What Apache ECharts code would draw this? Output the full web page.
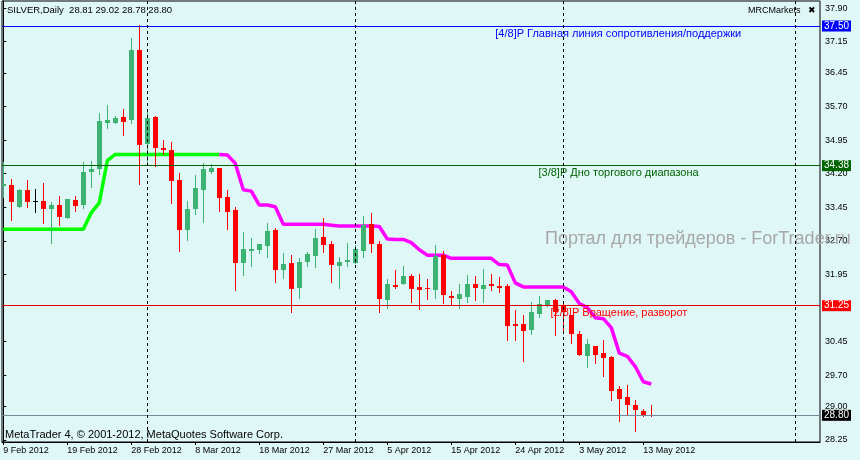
<!DOCTYPE html>
<html><head><meta charset="utf-8">
<script src="https://cdn.jsdelivr.net/npm/echarts@6/dist/echarts.min.js"></script>
<style>html,body{margin:0;padding:0;background:#E0F7F7}#c{width:860px;height:460px}</style>
</head><body><div id="c"></div>
<script>
const symbolName = "SILVER,Daily";
const opens  = [33.92,33.95,33.46,33.84,33.58,33.58,33.40,33.51,33.22,33.61,33.51,34.24,34.31,35.34,35.34,35.47,35.40,36.96,34.86,35.47,34.78,34.74,34.06,32.94,33.41,33.84,34.24,34.33,33.68,33.39,32.20,32.47,32.49,32.58,32.94,32.05,32.20,31.65,32.23,32.36,32.78,32.63,32.14,32.23,32.20,32.47,33.08,32.63,31.38,31.71,31.73,31.91,31.67,31.65,31.60,32.38,31.47,31.40,31.45,31.73,31.62,31.73,31.69,31.69,30.84,30.84,30.71,31.06,31.24,31.38,31.25,31.04,30.62,30.13,30.35,30.19,30.10,29.39,29.21,29.03,28.90,28.81];
const highs  = [34.46,34.08,33.86,34.06,33.86,33.99,33.57,33.71,33.63,33.71,34.46,34.48,35.56,35.73,35.50,35.65,37.23,37.52,35.65,35.49,34.95,34.91,34.22,33.59,34.17,34.44,34.42,34.33,33.84,33.46,32.90,32.76,32.63,33.10,32.99,32.43,32.38,32.32,32.45,32.96,33.21,32.70,32.34,32.65,32.61,33.25,33.32,32.70,31.85,32.05,32.14,31.96,31.96,31.85,32.61,32.47,31.58,31.73,31.94,31.91,32.07,31.96,31.89,31.73,31.15,31.04,31.33,31.47,31.38,31.40,31.33,31.04,30.68,30.51,30.35,30.48,30.13,29.46,29.48,29.14,28.94,29.02];
const lows   = [33.69,33.16,33.46,33.46,33.35,33.10,32.64,33.05,33.22,33.37,33.44,33.91,34.20,35.21,35.34,35.07,35.33,33.96,34.39,34.37,34.64,33.55,32.47,32.72,33.30,33.12,34.22,33.37,32.96,31.60,31.94,32.14,32.43,32.34,31.78,31.87,31.11,31.42,32.14,32.11,32.45,31.78,31.65,32.14,32.20,32.34,32.45,31.10,31.20,31.65,31.73,31.33,31.18,31.40,31.42,31.31,31.29,31.20,31.33,31.38,31.33,31.60,31.56,30.48,30.48,30.01,30.62,30.99,31.24,30.59,30.68,30.42,30.15,29.88,29.97,29.68,29.14,28.67,28.81,28.45,28.79,28.78];
const closes = [33.96,33.57,33.83,33.57,33.58,33.42,33.50,33.24,33.63,33.48,34.24,34.30,35.38,35.41,35.44,35.36,36.96,34.85,35.44,34.78,34.74,34.04,32.94,33.41,33.88,34.30,34.33,33.66,33.34,32.20,32.52,32.52,32.63,32.92,32.05,32.18,31.62,32.23,32.41,32.76,32.61,32.16,32.23,32.27,32.52,33.05,32.63,31.40,31.73,31.67,31.91,31.62,31.60,31.62,32.36,31.49,31.42,31.51,31.73,31.65,31.71,31.69,31.65,30.80,30.80,30.68,31.11,31.29,31.38,31.11,31.10,30.62,30.15,30.39,30.15,30.08,29.34,29.16,29.03,28.92,28.81,28.80];
const greenLine = [32.96,32.96,32.96,32.96,32.96,32.96,32.96,32.96,32.96,32.96,32.96,33.33,33.55,34.49,34.63,34.63,34.63,34.63,34.63,34.63,34.63,34.63,34.63,34.63,34.63,34.63,34.63,34.63];
const magentaLine = [null,null,null,null,null,null,null,null,null,null,null,null,null,null,null,null,null,null,null,null,null,null,null,null,null,null,null,
  34.63,34.62,34.43,33.84,33.81,33.50,33.50,33.46,33.07,33.07,33.07,33.07,33.07,33.07,33.05,33.03,33.03,33.03,33.03,33.03,33.02,32.74,32.73,32.73,32.66,32.50,32.38,32.38,32.38,32.31,32.31,32.31,32.31,32.31,32.31,32.17,32.16,31.76,31.67,31.67,31.67,31.67,31.67,31.67,31.56,31.30,31.21,30.98,30.96,30.76,30.19,30.12,29.89,29.55,29.50];
const levelValues = [37.50, 34.38, 31.25, 28.80];
const levelBoxLabels = ["37.50", "34.38", "31.25", "28.80"];
const levelTexts = ["[4/8]P Главная линия сопротивления/поддержки", "[3/8]P Дно торгового диапазона", "[2/8]P Вращение, разворот"];
const cycleLines = [18, 44, 70, 99];
const xTickIndex = [0, 8, 16, 24, 32, 40, 48, 56, 64, 72, 80];
const xTickLabels = ["9 Feb 2012", "19 Feb 2012", "28 Feb 2012", "8 Mar 2012", "18 Mar 2012", "27 Mar 2012", "5 Apr 2012", "15 Apr 2012", "24 Apr 2012", "3 May 2012", "13 May 2012"];
const yTickValues = [37.90, 37.15, 36.45, 35.70, 34.95, 34.20, 33.45, 32.70, 31.95, 30.45, 29.70, 29.00, 28.25];
const yTickLabels = ["37.90", "37.15", "36.45", "35.70", "34.95", "34.20", "33.45", "32.70", "31.95", "30.45", "29.70", "29.00", "28.25"];

const FONT = '"Liberation Sans", Arial, sans-serif';
const bull = '#3CB371', bear = '#FF0000', doji = '#000000';
const levelColors = ['#0000FF', '#006400', '#E00000', '#778899'];
const boxColors = ['#0000FF', '#006400', '#FF0000', '#000000'];
const textColors = ['#0000FF', '#006400', '#FF0000'];
const textX = [61.5, 66.9, 68.4];

const candleData = opens.map((o, i) => [i, o, closes[i], lows[i], highs[i]]);
const last = opens.length - 1;

function renderCandle(params, api) {
  const x = api.value(0), o = api.value(1), c = api.value(2), l = api.value(3), h = api.value(4);
  const pO = api.coord([x, o]), pC = api.coord([x, c]), pL = api.coord([x, l]), pH = api.coord([x, h]);
  const cx = Math.round(pO[0]) + 0.5;
  const col = c > o ? bull : (c < o ? bear : doji);
  const top = Math.round(Math.min(pO[1], pC[1]));
  const bot = Math.round(Math.max(pO[1], pC[1]));
  return {
    type: 'group',
    children: [
      { type: 'line', shape: { x1: cx, y1: Math.round(pH[1]), x2: cx, y2: Math.round(pL[1]) + 1 }, style: { stroke: col, lineWidth: 1 } },
      { type: 'rect', shape: { x: cx - 2.5, y: top, width: 5, height: Math.max(1, bot - top) }, style: { fill: col } }
    ]
  };
}

function renderLevelText(params, api) {
  const idx = api.value(2);
  const p = api.coord([api.value(0), api.value(1)]);
  return {
    type: 'text', x: p[0], y: p[1] + 7.5,
    style: { text: levelTexts[idx], fill: textColors[idx], font: '11px ' + FONT, align: 'left', verticalAlign: 'middle' }
  };
}

const markLineData = levelValues.map((v, i) => ({
  yAxis: v,
  lineStyle: { color: levelColors[i], width: 1, type: 'solid' },
  label: {
    show: true, position: 'end', distance: 2, formatter: levelBoxLabels[i],
    color: '#fff', backgroundColor: boxColors[i], padding: [1, 2, 0, 2],
    fontSize: 10, fontFamily: FONT, lineHeight: 10
  }
})).concat(cycleLines.map(v => ({
  xAxis: v,
  lineStyle: { color: '#000', width: 1, type: [3, 3] },
  label: { show: false }
})));

const chart = echarts.init(document.getElementById('c'), null, { renderer: 'canvas' });
chart.setOption({
  animation: false,
  backgroundColor: '#E0F7F7',
  grid: { left: 2, top: 1, right: 40, bottom: 18, show: true, borderColor: '#000', borderWidth: 1, backgroundColor: 'transparent' },
  xAxis: {
    type: 'value', min: -0.1625, max: 102.0875,
    splitLine: { show: false },
    axisLine: { show: true, lineStyle: { color: '#000', width: 1 } },
    axisTick: { show: true, customValues: xTickIndex, length: 3, lineStyle: { color: '#000' } },
    axisLabel: {
      customValues: xTickIndex, align: 'left', margin: 4, color: '#000', fontSize: 9, fontFamily: FONT,
      formatter: v => { const k = xTickIndex.indexOf(Math.round(v)); return k >= 0 ? xTickLabels[k] : ''; }
    }
  },
  yAxis: {
    type: 'value', position: 'right', min: 28.204, max: 38.059, scale: true,
    splitLine: { show: false },
    axisLine: { show: true, lineStyle: { color: '#000', width: 1 } },
    axisTick: { show: true, customValues: yTickValues, length: 3, inside: false, lineStyle: { color: '#000' } },
    axisLabel: {
      customValues: yTickValues, margin: 5, color: '#000', fontSize: 9, fontFamily: FONT,
      formatter: v => { let k = -1; yTickValues.forEach((t, i) => { if (Math.abs(t - v) < 1e-6) k = i; }); return k >= 0 ? yTickLabels[k] : ''; }
    }
  },
  series: [
    {
      type: 'line', name: 'up', data: greenLine.map((v, i) => [i, v]).filter(d => d[1] !== null),
      showSymbol: false, lineStyle: { color: '#00FF00', width: 3.5 }, z: 3, silent: true,
      markLine: { silent: true, symbol: ['none', 'none'], animation: false, data: markLineData }
    },
    {
      type: 'line', name: 'down', data: magentaLine.map((v, i) => [i, v]).filter(d => d[1] !== null),
      showSymbol: false, lineStyle: { color: '#FF00FF', width: 3.5 }, z: 3, silent: true
    },
    {
      type: 'custom', name: 'candles', renderItem: renderCandle, data: candleData, clip: true, z: 4,
      encode: { x: 0, y: [1, 2, 3, 4] }, silent: true
    },
    {
      type: 'custom', name: 'levelText', renderItem: renderLevelText, z: 5, silent: true,
      data: levelTexts.map((t, i) => [textX[i], levelValues[i], i]),
      encode: { x: 0, y: 1 }
    }
  ],
  graphic: [
    { type: 'text', left: 7, top: 5, z: 10, style: { text: symbolName + '  ' + [opens[last], highs[last], lows[last], closes[last]].map(v => v.toFixed(2)).join(' '), fill: '#000', font: '9.5px ' + FONT } },
    { type: 'text', left: 748, top: 6, z: 10, style: { text: 'MRCMarkets', fill: '#000', font: '9px ' + FONT } },
    { type: 'text', left: 808, top: 6, z: 10, style: { text: '✖', fill: '#000', font: '9px "DejaVu Sans"' } },
    { type: 'text', left: 545, top: 230, z: 1, style: { text: 'Портал для трейдеров - ForTrader.ru', fill: '#A8A8A8', font: '18px ' + FONT } },
    { type: 'text', left: 5, top: 429, z: 10, style: { text: 'MetaTrader 4, © 2001-2012, MetaQuotes Software Corp.', fill: '#000', font: '11px ' + FONT } }
  ]
});
</script></body></html>
